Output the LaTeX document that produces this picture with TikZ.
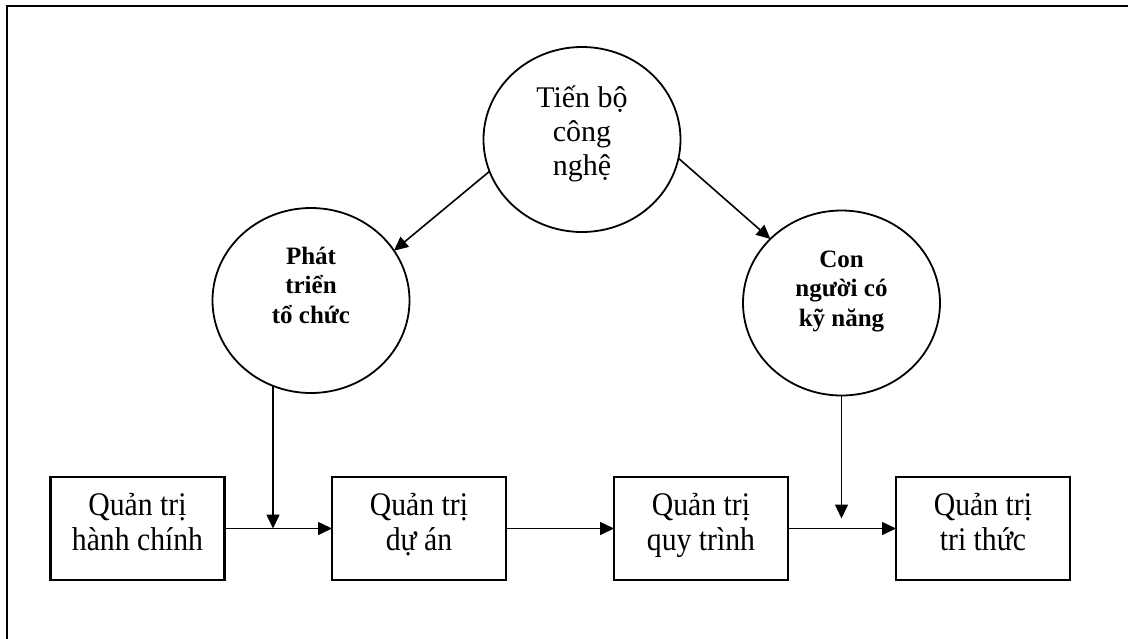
\documentclass[tikz,border=0pt]{standalone}
\usepackage{fontspec}
\setmainfont{Liberation Serif}
\newfontfamily\narrowserif[FakeStretch=0.9]{Liberation Serif}
\usetikzlibrary{shapes.geometric,arrows.meta}
\begin{document}
\begin{tikzpicture}[x=1pt,y=-1pt,
  bubble/.style={draw, ellipse, line width=1.8pt, minimum width=197pt, minimum height=185pt, inner sep=0pt, outer sep=0pt},
  stage/.style={draw, rectangle, line width=2.1pt, minimum width=174pt, minimum height=103pt, inner sep=0pt, outer sep=0pt},
  plain/.style={align=center, inner sep=0pt, font=\fontsize{30}{34}\selectfont},
  stagetext/.style={align=center, inner sep=0pt, font=\narrowserif\fontsize{33}{35}\selectfont},
  strong/.style={align=center, inner sep=0pt, font=\fontsize{25}{29.5}\selectfont\bfseries},
  flow/.style={line width=1.6pt, -{Triangle[length=14pt,width=13pt]}},
  frame/.style={line width=2.2pt, line join=miter}
]
\useasboundingbox (0,0) rectangle (1128,638);
% page frame (top and left edges)
\draw[frame] (7,645) -- (7,6) -- (1135,6);

% driving factors
\node[bubble] (tech) at (582,139.5) {};
\node[plain] (techtext) at (582,134) {Tiến bộ\\công\\nghệ};
\node[bubble] (org) at (311,300.5) {};
\node[strong] (orgtext) at (311,285) {Phát\\triển\\tổ chức};
\node[bubble] (people) at (841.5,303) {};
\node[strong] (peopletext) at (841.5,291) {Con\\người có\\kỹ năng};

% management stages
\node[stage] (b1) at (137.5,528.5) {};
\node[stage] (b2) at (419,528.5) {};
\node[stage] (b3) at (701,528.5) {};
\node[stage] (b4) at (983,528.5) {};
\node[stagetext] (b1text) at (137.5,525) {Quản trị\\hành chính\vphantom{y}};
\node[stagetext] (b2text) at (419,525) {Quản trị\\dự án\vphantom{y}};
\node[stagetext] (b3text) at (701,525) {Quản trị\\quy trình\vphantom{y}};
\node[stagetext] (b4text) at (983,525) {Quản trị\\tri thức\vphantom{y}};

% connectors
\draw[flow] (tech.199) -- (org.31);
\draw[flow] (tech.349) -- (people.138);
\draw[flow] (b1.east) -- (b2.west);
\draw[flow] (b2.east) -- (b3.west);
\draw[flow] (b3.east) -- (b4.west);
\draw[flow] (org.246) -- (org.246 |- b1.east);
\draw[flow] (people.south) -- ([yshift=10pt]people.south |- b3.east);
\end{tikzpicture}
\end{document}
